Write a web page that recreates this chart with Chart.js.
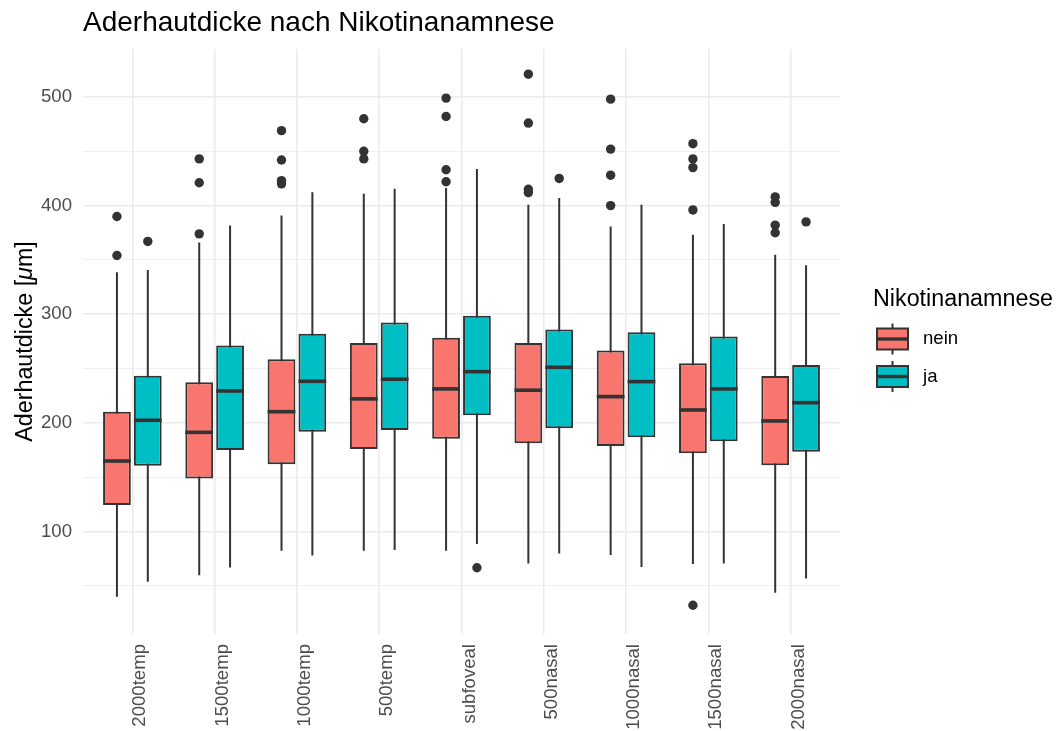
<!DOCTYPE html>
<html>
<head>
<meta charset="utf-8">
<title>Aderhautdicke nach Nikotinanamnese</title>
<script src="https://cdn.jsdelivr.net/npm/chart.js@4.4.1/dist/chart.umd.min.js"></script>
<style>
    html, body { margin: 0; padding: 0; background: #ffffff; }
    #wrapper { width: 1058px; height: 731px; position: relative; }
</style>
</head>
<body>
<div id="wrapper"><canvas id="grafico"></canvas></div>
<script>
"use strict";

// Messorte (von temporal nach nasal)
const categorie = ["2000temp", "1500temp", "1000temp", "500temp", "subfoveal", "500nasal", "1000nasal", "1500nasal", "2000nasal"];

// Nichtraucher (nein): Whisker, Quartile, Median, Ausreisser
const neinLo  = [39.7, 59.7, 82.1, 82.1, 82.1, 70.5, 78.2, 69.9, 43.4];
const neinQ1  = [124.2, 148.8, 161.8, 175.9, 185.3, 181.1, 178.6, 171.9, 160.8];
const neinMed = [164.8, 191.2, 210.2, 222.0, 231.2, 230.0, 224.1, 211.8, 201.7];
const neinQ3  = [210.2, 237.4, 258.5, 273.4, 278.2, 273.4, 266.6, 254.8, 243.1];
const neinHi  = [338.7, 366.0, 390.9, 410.9, 416.1, 400.7, 380.8, 373.1, 354.7];
const neinOut = [[390, 354], [443, 421, 374], [469, 442, 423, 420], [480, 450, 443], [499, 482, 433, 422],
                 [521, 476, 415, 412], [498, 452, 428, 400], [457, 443, 435, 396, 32], [408, 403, 382, 375]];

// Raucher (ja)
const jaLo  = [53.6, 66.8, 77.9, 82.8, 88.3, 79.7, 67.1, 70.5, 56.7];
const jaQ1  = [160.5, 174.9, 191.8, 193.4, 206.9, 194.9, 186.6, 183.1, 173.4];
const jaMed = [202.3, 229.3, 238.2, 240.1, 247.1, 251.1, 237.9, 231.2, 218.5];
const jaQ3  = [243.4, 271.1, 282.0, 292.3, 298.6, 285.9, 283.4, 279.4, 253.3];
const jaHi  = [340.8, 381.7, 412.3, 415.6, 433.6, 406.9, 400.7, 383.0, 345.1];
const jaOut = [[367], [], [], [], [66.5], [425], [], [], [385]];

// Gitterlinien der y-Achse
const yTicks = [50, 100, 150, 200, 250, 300, 350, 400, 450, 500];

const FONT = "'Liberation Sans', Arial, Helvetica, sans-serif";
const INK = "#333333";

const serie = [
    { label: "nein", colore: "#F8766D", lo: neinLo, q1: neinQ1, med: neinMed, q3: neinQ3, hi: neinHi, out: neinOut },
    { label: "ja",   colore: "#00BFC4", lo: jaLo,   q1: jaQ1,   med: jaMed,   q3: jaQ3,   hi: jaHi,   out: jaOut }
];

// Whisker hinter den Boxen, Median und Ausreisser darueber
const boxplot = {
    id: "boxplot",
    beforeDatasetsDraw(chart) {
        const ctx = chart.ctx, y = chart.scales.y;
        ctx.save();
        ctx.strokeStyle = INK;
        ctx.lineWidth = 2;
        serie.forEach((s, d) => {
            chart.getDatasetMeta(d).data.forEach((bar, i) => {
                ctx.beginPath();
                ctx.moveTo(bar.x, y.getPixelForValue(s.lo[i]));
                ctx.lineTo(bar.x, y.getPixelForValue(s.hi[i]));
                ctx.stroke();
            });
        });
        ctx.restore();
    },
    afterDatasetsDraw(chart) {
        const ctx = chart.ctx, y = chart.scales.y;
        ctx.save();
        serie.forEach((s, d) => {
            chart.getDatasetMeta(d).data.forEach((bar, i) => {
                const ym = y.getPixelForValue(s.med[i]);
                ctx.strokeStyle = INK;
                ctx.lineWidth = 3.6;
                ctx.beginPath();
                ctx.moveTo(bar.x - bar.width / 2, ym);
                ctx.lineTo(bar.x + bar.width / 2, ym);
                ctx.stroke();
                ctx.fillStyle = INK;
                for (const v of s.out[i]) {
                    ctx.beginPath();
                    ctx.arc(bar.x, y.getPixelForValue(v), 4.7, 0, Math.PI * 2);
                    ctx.fill();
                }
            });
        });
        ctx.restore();
    }
};

// Titel, y-Achsentitel und Legende
const beschriftung = {
    id: "beschriftung",
    afterDraw(chart) {
        const ctx = chart.ctx, area = chart.chartArea;
        ctx.save();
        ctx.fillStyle = "#000000";
        ctx.textAlign = "left";
        ctx.textBaseline = "alphabetic";
        ctx.font = "28px " + FONT;
        ctx.fillText("Aderhautdicke nach Nikotinanamnese", area.left, 31);

        // y-Achsentitel mit kursivem mu
        const teile = [
            { t: "Aderhautdicke [", f: "23.3px " + FONT },
            { t: "\u03bc", f: "italic 23.3px " + FONT },
            { t: "m]", f: "23.3px " + FONT }
        ];
        let breite = 0;
        teile.forEach(p => { ctx.font = p.f; p.w = ctx.measureText(p.t).width; breite += p.w; });
        ctx.translate(32, (area.top + area.bottom) / 2);
        ctx.rotate(-Math.PI / 2);
        let px = -breite / 2;
        teile.forEach(p => { ctx.font = p.f; ctx.fillText(p.t, px, 0); px += p.w; });
        ctx.setTransform(1, 0, 0, 1, 0, 0);

        // Legende
        ctx.font = "23.3px " + FONT;
        ctx.fillText("Nikotinanamnese", 873, 306);
        serie.forEach((s, d) => {
            const cy = 339 + d * 37.5, x0 = 877, w = 31;
            ctx.strokeStyle = INK;
            ctx.lineWidth = 2;
            ctx.beginPath();
            ctx.moveTo(x0 + w / 2, cy - 15.5);
            ctx.lineTo(x0 + w / 2, cy + 15.5);
            ctx.stroke();
            ctx.fillStyle = s.colore;
            ctx.fillRect(x0, cy - 10.5, w, 21);
            ctx.strokeRect(x0, cy - 10.5, w, 21);
            ctx.lineWidth = 3.4;
            ctx.beginPath();
            ctx.moveTo(x0, cy);
            ctx.lineTo(x0 + w, cy);
            ctx.stroke();
            ctx.fillStyle = "#000000";
            ctx.font = "18.6px " + FONT;
            ctx.textBaseline = "middle";
            ctx.fillText(s.label, 923, cy);
            ctx.textBaseline = "alphabetic";
        });
        ctx.restore();
    }
};

Chart.defaults.font.family = FONT;

const grafico = new Chart(document.getElementById("grafico"), {
    type: "bar",
    data: {
        datasets: serie.map(s => ({
            label: s.label,
            data: categorie.map((c, i) => ({ x: i, y: [s.q1[i], s.q3[i]] })),
            backgroundColor: s.colore,
            borderColor: INK,
            borderWidth: 2,
            borderSkipped: false,
            categoryPercentage: 0.75,
            barPercentage: 0.9
        }))
    },
    options: {
        responsive: true,
        maintainAspectRatio: false,
        animation: false,
        layout: { padding: { top: 49, right: 218, bottom: 0, left: 0 } },
        plugins: {
            legend: { display: false },
            title: { display: false },
            tooltip: { enabled: false }
        },
        scales: {
            x: {
                type: "linear",
                min: -0.6,
                max: 8.6,
                offset: false,
                afterBuildTicks: s => { s.ticks = categorie.map((c, i) => ({ value: i })); },
                afterFit: s => { s.height = 97; },
                grid: { color: "#EBEBEB", lineWidth: 1.6, drawTicks: false, offset: false },
                border: { display: false },
                ticks: {
                    autoSkip: false,
                    minRotation: 90,
                    maxRotation: 90,
                    padding: 10,
                    labelOffset: 8,
                    color: "#4D4D4D",
                    font: { size: 18.6 },
                    callback: v => categorie[v]
                }
            },
            y: {
                min: 5.5,
                max: 544.2,
                afterBuildTicks: s => { s.ticks = yTicks.map(v => ({ value: v })); },
                afterFit: s => { s.width = 83; },
                grid: {
                    color: "#EBEBEB",
                    lineWidth: c => (c.tick && c.tick.value % 100 === 0 ? 1.6 : 0.8),
                    drawTicks: false
                },
                border: { display: false },
                ticks: {
                    padding: 11,
                    color: "#4D4D4D",
                    font: { size: 18.6 },
                    callback: v => (v % 100 === 0 ? v : "")
                }
            }
        }
    },
    plugins: [boxplot, beschriftung]
});
</script>
</body>
</html>
